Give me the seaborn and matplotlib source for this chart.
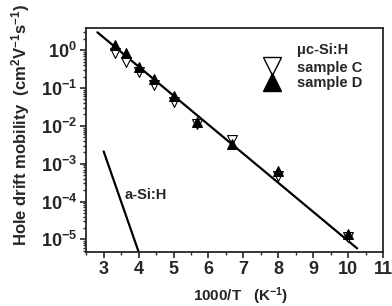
import numpy as np
import pandas as pd
import matplotlib
matplotlib.use("Agg")
import matplotlib.pyplot as plt
import seaborn as sns
from matplotlib.lines import Line2D

# data
inv_T = [3.33, 3.65, 4.0, 4.45, 5.0, 5.68, 6.67, 8.0, 10.0]
mu_C = [0.83, 0.49, 0.26, 0.12, 0.043, 0.011, 0.0042, 4.6e-4, 1.15e-5]
mu_D = [1.35, 0.83, 0.36, 0.17, 0.062, 0.013, 0.0034, 6.6e-4, 1.4e-5]

fit_x = [2.82, 10.26]
fit_y = [2.95, 5.8e-6]
asi_x = [3.0, 4.0]
asi_y = [2.1e-3, 4.7e-6]

sns.set_style("ticks")
plt.rcParams['font.family'] = ['Liberation Sans', 'DejaVu Sans']
plt.rcParams['font.weight'] = 'bold'
plt.rcParams['axes.labelweight'] = 'bold'
plt.rcParams['mathtext.fontset'] = 'custom'
plt.rcParams['mathtext.rm'] = 'Liberation Sans:bold'
plt.rcParams['mathtext.it'] = 'Liberation Sans:bold'
plt.rcParams['mathtext.bf'] = 'Liberation Sans:bold'
plt.rcParams['mathtext.default'] = 'rm'

df = pd.DataFrame({
    'x': inv_T * 2,
    'mu': mu_C + mu_D,
    'sample': ['sample C'] * len(inv_T) + ['sample D'] * len(inv_T),
})

fig, ax = plt.subplots(figsize=(3.92, 3.06), dpi=100)

sns.lineplot(x=fit_x, y=fit_y, ax=ax, color='black', lw=1.6)
sns.lineplot(x=asi_x, y=asi_y, ax=ax, color='black', lw=1.6)

c = df[df['sample'] == 'sample C']
d = df[df['sample'] == 'sample D']
sns.scatterplot(data=c, x='x', y='mu', ax=ax, marker='v', s=50,
                facecolor='white', edgecolor='black', linewidth=0.8, zorder=3)
sns.scatterplot(data=d, x='x', y='mu', ax=ax, marker='^', s=50,
                color='black', edgecolor='black', linewidth=0.8, zorder=4)

ax.set_yscale('log')
ax.set_xlim(2.5, 11)
ax.set_ylim(4.7e-6, 3.8)
ax.set_xticks(range(3, 12))
ax.set_xticks(np.arange(2.5, 11.01, 0.5), minor=True)
ax.tick_params(axis='both', which='major', labelsize=13, direction='out',
               length=4, width=1.2, pad=2.5)
ax.tick_params(axis='both', which='minor', direction='out', length=2.5, width=1)
ax.yaxis.set_major_locator(matplotlib.ticker.LogLocator(base=10, numticks=10))
ax.yaxis.set_minor_locator(matplotlib.ticker.LogLocator(base=10, subs=np.arange(2, 10), numticks=10))
ax.yaxis.set_minor_formatter(matplotlib.ticker.NullFormatter())
for s in ax.spines.values():
    s.set_linewidth(1.3)

ax.set_xlabel('1000/T   (K$^{-1}$)', fontsize=11)
ax.set_ylabel('Hole drift mobility  (cm$^2$V$^{-1}$s$^{-1}$)', fontsize=12)
ax.xaxis.set_label_coords(0.519, -0.15)
ax.yaxis.set_label_coords(-0.182, 0.567)

ax.text(0.131, 0.254, 'a-Si:H', fontsize=10.5, va='center', ha='left', transform=ax.transAxes)
ax.text(0.71, 0.902, 'μc-Si:H', fontsize=10.5, va='center', ha='left', transform=ax.transAxes)

handles = [
    Line2D([], [], ls='none', marker='v', markersize=13.5, mfc='white', mec='black', mew=1),
    Line2D([], [], ls='none', marker='^', markersize=13.5, mfc='black', mec='black', mew=1),
]
ax.legend(handles, ['sample C', 'sample D'], loc='center left', frameon=False,
          fontsize=10.5, bbox_to_anchor=(0.596, 0.79), handlelength=1.25,
          handletextpad=1.1, labelspacing=0.08, borderpad=0, borderaxespad=0)

fig.subplots_adjust(left=0.22, right=0.977, top=0.908, bottom=0.177)
fig.savefig('out.png', dpi=100)
